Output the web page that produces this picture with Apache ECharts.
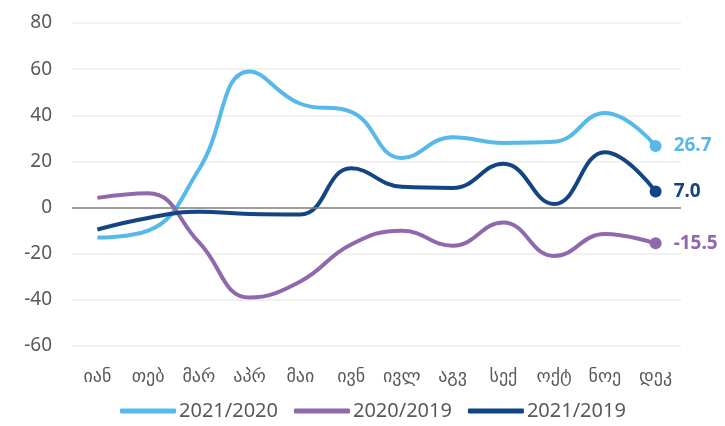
<!DOCTYPE html>
<html>
<head>
<meta charset="utf-8">
<script src="https://cdn.jsdelivr.net/npm/echarts@6/dist/echarts.min.js"></script>
<style>
  html, body { margin: 0; padding: 0; background: #fff; }
  #chart { width: 725px; height: 426px; }
</style>
</head>
<body>
<div id="chart"></div>
<script>
const months = ['იან', 'თებ', 'მარ', 'აპრ', 'მაი', 'ივნ', 'ივლ', 'აგვ', 'სექ', 'ოქტ', 'ნოე', 'დეკ'];
const s2021_2020 = [-13, -10, 16.5, 59, 45, 41.5, 21.5, 30.5, 28, 28.5, 41, 26.7];
const s2020_2019 = [4.2, 6.2, -15, -39, -32, -16, -10, -16.5, -6.5, -21, -11.5, -15.5];
const s2021_2019 = [-9.5, -4.5, -1.8, -2.8, -3, 17, 9, 8.5, 19, 1.5, 24, 7.0];
const yTicks = { min: -60, max: 80, step: 20 };

const font = '"Noto Sans", "DejaVu Sans", sans-serif';

function makeSeries(name, values, color) {
  const last = values.length - 1;
  return {
    name: name,
    type: 'line',
    smooth: 0.45,
    symbol: 'none',
    lineStyle: { color: color, width: 4 },
    itemStyle: { color: color },
    data: values.map((v, i) => i === last ? {
      value: v,
      symbol: 'circle',
      symbolSize: 12,
      label: {
        show: true,
        position: 'right',
        distance: 12,
        color: color,
        fontWeight: 'bold',
        fontSize: 19,
        fontFamily: font,
        formatter: p => p.value.toFixed(1)
      }
    } : v)
  };
}

const chart = echarts.init(document.getElementById('chart'));
const series = [
  makeSeries('2021/2020', s2021_2020, '#56b9e9'),
  makeSeries('2020/2019', s2020_2019, '#8f68ad'),
  makeSeries('2021/2019', s2021_2019, '#134584')
];
// zero line
series[0].markLine = {
  silent: true,
  symbol: 'none',
  label: { show: false },
  lineStyle: { color: '#808080', width: 1.5, type: 'solid' },
  data: [{ yAxis: 0 }]
};

chart.setOption({
  animation: false,
  textStyle: { fontFamily: font },
  grid: { left: 72, right: 44, top: 23, bottom: 80 },
  legend: {
    left: 115,
    top: 396,
    itemWidth: 56,
    itemHeight: 5,
    itemGap: 16,
    icon: 'roundRect',
    textStyle: { color: '#595959', fontSize: 20, fontFamily: font, padding: [0, 0, 0, -2] },
    data: ['2021/2020', '2020/2019', '2021/2019']
  },
  xAxis: {
    type: 'category',
    data: months,
    boundaryGap: true,
    axisLine: { show: false, onZero: false },
    axisTick: { show: false },
    axisLabel: { color: '#595959', fontSize: 18, margin: 22, interval: 0 }
  },
  yAxis: {
    type: 'value',
    min: yTicks.min,
    max: yTicks.max,
    interval: yTicks.step,
    axisLine: { show: false },
    axisTick: { show: false },
    axisLabel: { color: '#595959', fontSize: 19, margin: 20 },
    splitLine: { lineStyle: { color: '#ececec', width: 1.5 } }
  },
  series: series
});
</script>
</body>
</html>
